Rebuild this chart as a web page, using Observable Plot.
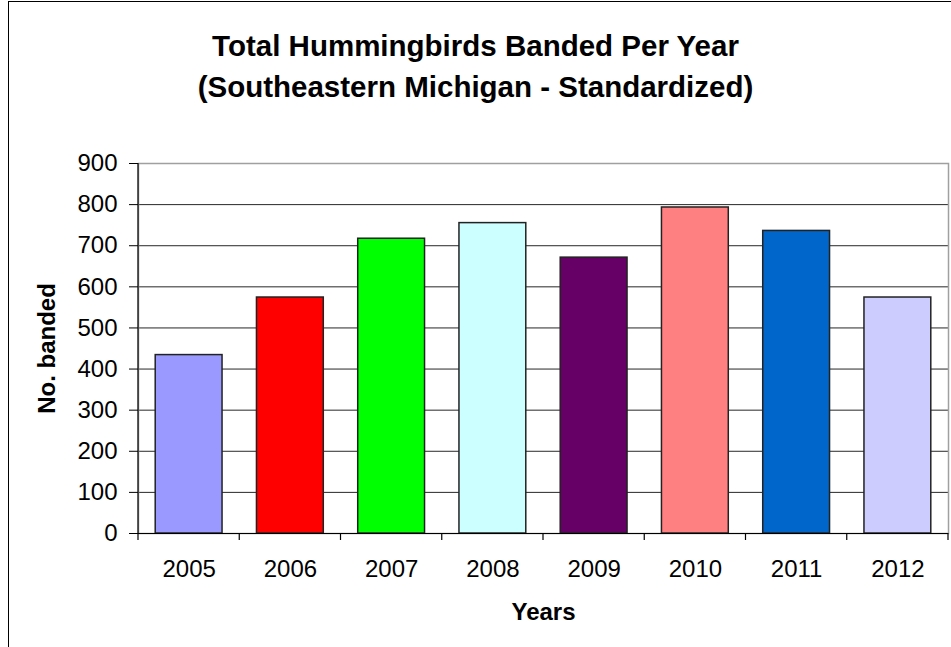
<!DOCTYPE html>
<html><head><meta charset="utf-8">
<script src="https://cdn.jsdelivr.net/npm/d3@7"></script>
<script src="https://cdn.jsdelivr.net/npm/@observablehq/plot@0.6"></script>
<style>
body{margin:0;background:#fff;font-family:"Liberation Sans",Arial,sans-serif;}
#wrap{position:relative;width:951px;height:647px;overflow:hidden;background:#fff;}
#border{position:absolute;left:8px;top:1px;width:1100px;height:800px;border:1px solid #000;box-sizing:border-box;}
.t{position:absolute;left:0;width:951px;text-align:center;font-weight:bold;font-size:29.5px;line-height:41px;color:#000;white-space:nowrap;}
#chart{position:absolute;left:0;top:150px;}
</style></head>
<body>
<div id="wrap">
  <div id="border"></div>
  <div class="t" style="top:25px">Total Hummingbirds Banded Per Year</div>
  <div class="t" style="top:66px">(Southeastern Michigan - Standardized)</div>
  <div id="chart"></div>
</div>
<script>
const years = ["2005","2006","2007","2008","2009","2010","2011","2012"];
const counts = [434, 574, 717, 755, 671, 793, 736, 574];
const colors = ["#9999FF","#FF0000","#00FF00","#CCFFFF","#660066","#FF8080","#0066CC","#CCCCFF"];
const yTicks = [0,100,200,300,400,500,600,700,800,900];
const data = years.map((y,i)=>({year:y,count:counts[i],color:colors[i]}));

const chart = Plot.plot({
  width:951, height:497, marginTop:13, marginBottom:114, marginLeft:138, marginRight:3,
  style:{fontFamily:"'Liberation Sans', Arial, sans-serif", fontSize:"24px", color:"#000", background:"transparent", overflow:"visible"},
  x:{domain:years, paddingInner:0.34, paddingOuter:0.17, round:false, label:null},
  y:{domain:[0,900], label:null},
  marks:[
    Plot.gridY(yTicks.filter(t=>t>0 && t<900), {stroke:"#000", strokeOpacity:0.85}),
    Plot.frame({stroke:"#a0a0a0", strokeWidth:1.5}),
    Plot.barY(data,{x:"year", y:"count", fill:"color", stroke:"#222", strokeWidth:1.5}),
    Plot.ruleY([0],{stroke:"#000", strokeWidth:1.2}),
    Plot.axisY({ticks:yTicks, tickSize:9, tickPadding:12, label:null, fontSize:24}),
    Plot.axisX({tickSize:0, tickPadding:26, label:null, fontSize:24}),
    Plot.text(["No. banded"], {frameAnchor:"left", textAnchor:"middle", lineAnchor:"middle", rotate:-90, dx:-91, fontWeight:"bold", fontSize:24, fill:"#000"}),
    Plot.text(["Years"], {frameAnchor:"bottom", textAnchor:"middle", lineAnchor:"middle", dy:79, fontWeight:"bold", fontSize:24, fill:"#000"})
  ]
});
document.getElementById("chart").appendChild(chart);

// axis line and category boundary ticks, positioned from Plot's own scales
const xs = chart.scale("x"), ys = chart.scale("y");
const svg = d3.select(chart);
const y0 = ys.apply(0), yTop = ys.apply(900);
const gap = (xs.step - xs.bandwidth) / 2;
const bounds = years.map(v => xs.apply(v) - gap);
bounds.push(xs.apply(years[years.length-1]) + xs.bandwidth + gap);
const g = svg.append("g").attr("stroke","#000").attr("stroke-width",1.2);
g.append("line").attr("x1",bounds[0]).attr("x2",bounds[0]).attr("y1",yTop).attr("y2",y0);
bounds.forEach(b => g.append("line").attr("x1",b).attr("x2",b).attr("y1",y0).attr("y2",y0+7));
</script>
</body></html>
